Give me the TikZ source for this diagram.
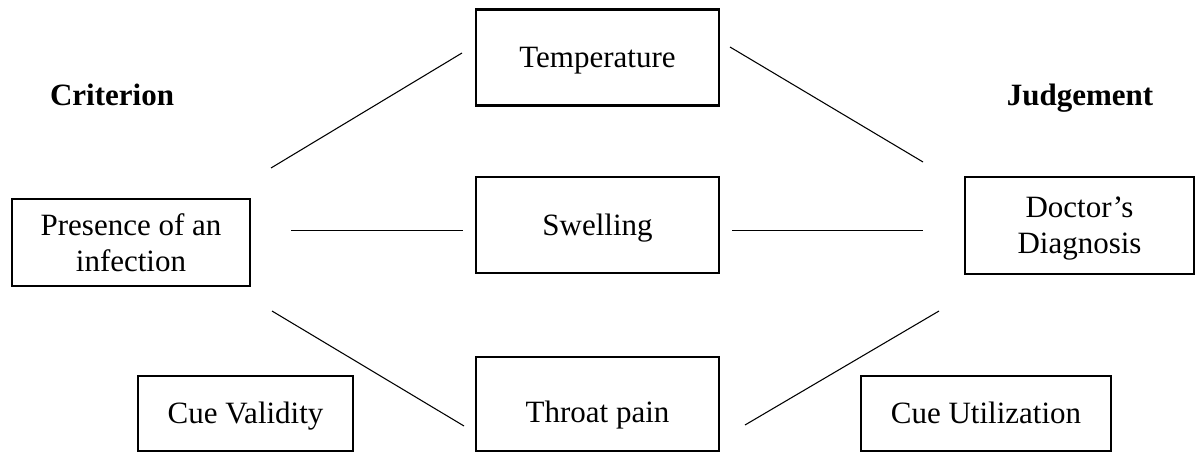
\documentclass[tikz,border=0pt]{standalone}
\usepackage{fontspec}
\setmainfont{Liberation Serif}
\begin{document}
\begin{tikzpicture}[x=0.75pt,y=-0.75pt,
  every node/.style={font=\fontsize{23.25}{27}\selectfont, inner sep=0pt, align=center, text depth=0pt},
  oneline/.style={text height=15.4pt},
  cuebox/.style={draw, oneline, line width=2pt, minimum width=182.25pt, minimum height=72pt},
  thinbox/.style={draw, line width=0.8pt},
  title/.style={oneline, font=\fontsize{23.25}{27}\selectfont\bfseries},
  link/.style={line width=0.8pt}]
\useasboundingbox (0,0) rectangle (1195,453);
% titles
\node[title] (crit) at (112,95) {Criterion};
\node[title] (judg) at (1080,95) {Judgement};
% cue boxes
\node[cuebox] (temp) at (597.5,57.5) {Temperature};
\node[cuebox] (swel) at (597.5,225) {Swelling};
\node[cuebox, minimum height=70.5pt] (thro) at (597.5,404) {\raisebox{-6pt}{Throat pain}};
% criterion and judgement boxes
\node[thinbox, minimum width=178.5pt, minimum height=65.25pt] (pres) at (131,242.5) {Presence of an\\infection};
\node[thinbox, minimum width=171.75pt, minimum height=72.75pt] (doct) at (1079.5,225.5) {Doctor’s\\Diagnosis};
\node[thinbox, oneline, minimum width=161.25pt, minimum height=56.25pt] (cval) at (245.5,413.5) {Cue Validity};
\node[thinbox, oneline, minimum width=187.5pt, minimum height=56.25pt] (cuti) at (986,413.5) {Cue Utilization};
% connector end points
\coordinate (a1) at (271,168);   \coordinate (a2) at (462,53);
\coordinate (b1) at (730,47);    \coordinate (b2) at (923,162);
\coordinate (c1) at (291,230.5); \coordinate (c2) at (463,230.5);
\coordinate (d1) at (732,230.5); \coordinate (d2) at (923,230.5);
\coordinate (e1) at (272,311);   \coordinate (e2) at (464,426);
\coordinate (f1) at (745,425);   \coordinate (f2) at (939,311);
\draw[link] (a1) -- (a2);
\draw[link] (b1) -- (b2);
\draw[link] (c1) -- (c2);
\draw[link] (d1) -- (d2);
\draw[link] (e1) -- (e2);
\draw[link] (f1) -- (f2);
\end{tikzpicture}
\end{document}
